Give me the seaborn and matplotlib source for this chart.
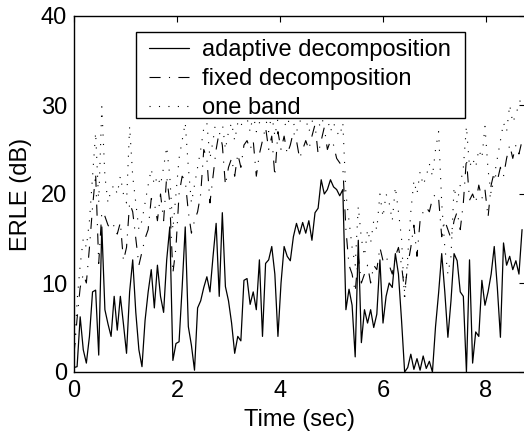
import numpy as np
import pandas as pd
import matplotlib
matplotlib.use("Agg")
import matplotlib.pyplot as plt
from matplotlib.patches import Rectangle
import seaborn as sns

# time axis, one sample every 0.06 s
time_sec = [round(0.06 * k, 2) for k in range(146)]

adaptive = [
    0.5, 0.6, 6.2, 2.5, 1.0, 4.0, 9.0, 9.2, 1.9, 16.3,
    7.0, 5.4, 4.0, 8.5, 4.7, 8.5, 5.4, 2.1, 9.0, 12.6,
    6.7, 2.5, 0.6, 5.8, 9.0, 11.5, 7.2, 12.0, 8.5, 6.7,
    12.6, 16.3, 1.3, 3.2, 3.4, 9.5, 16.3, 5.1, 3.0, 0.2,
    7.2, 8.0, 9.5, 10.7, 9.0, 13.0, 16.7, 8.5, 17.9, 9.6,
    8.0, 5.5, 2.1, 4.0, 3.5, 10.3, 10.5, 7.6, 9.0, 7.0,
    12.6, 4.0, 12.2, 12.6, 14.1, 11.0, 4.0, 10.0, 14.1, 13.0,
    12.5, 15.2, 16.7, 15.5, 16.8, 15.6, 17.0, 14.8, 17.9, 18.4,
    21.6, 20.0, 20.5, 21.6, 20.8, 20.5, 19.8, 20.5, 7.0, 9.3,
    7.5, 1.7, 14.8, 3.3, 7.0, 5.5, 7.0, 5.0, 6.5, 12.6,
    5.5, 8.5, 10.0, 9.5, 13.3, 11.0, 5.8, 0.0, 0.5, 2.0,
    0.3, 1.5, 0.2, 1.8, 0.4, 1.2, 0.0, 5.1, 8.9, 13.3,
    9.0, 3.9, 8.0, 13.3, 12.5, 9.0, 8.5, 0.0, 12.6, 1.0,
    4.5, 4.0, 10.3, 7.5, 9.0, 11.0, 14.1, 9.5, 3.9, 14.5,
    12.0, 13.0, 11.5, 12.5, 11.0, 16.0,
]

fixed = [
    2.0, 6.0, 9.5, 11.0, 10.0, 14.0, 18.5, 22.3, 12.2, 18.0,
    17.5, 16.5, 16.0, 16.5, 15.5, 16.8, 12.5, 14.0, 19.0, 18.0,
    15.0, 12.0, 13.5, 15.0, 16.0, 19.5, 19.0, 17.0, 20.0, 17.0,
    22.0, 19.0, 11.1, 14.0, 20.0, 22.0, 21.5, 18.0, 15.6, 17.0,
    18.0, 20.0, 25.0, 24.0, 19.0, 22.0, 25.0, 27.0, 25.5, 21.0,
    23.0, 24.0, 22.0, 24.5, 23.0, 25.5, 26.0, 25.0, 26.0, 22.0,
    24.5, 26.0, 27.5, 25.0, 26.5, 22.0, 27.0, 25.0, 26.5, 24.5,
    25.5, 27.0, 26.0, 24.0, 25.0, 26.0, 25.0, 26.5, 27.8, 24.5,
    26.0, 27.5, 25.0, 26.0, 25.5, 24.0, 23.5, 23.0, 16.0, 12.0,
    11.0, 9.0, 13.0, 10.0, 11.0, 12.0, 10.0, 12.0, 11.5, 14.0,
    12.5, 13.0, 12.0, 11.0, 13.0, 14.0, 12.0, 9.0, 12.0, 14.0,
    16.5, 13.0, 17.0, 18.0, 18.5, 18.0, 19.5, 20.0, 19.5, 15.2,
    17.0, 16.0, 15.0, 17.0, 18.0, 16.0, 19.0, 24.0, 19.3, 20.0,
    19.0, 21.0, 19.5, 20.5, 17.4, 21.0, 22.5, 21.5, 23.0, 22.0,
    24.0, 25.5, 24.0, 25.5, 24.5, 26.0,
]

one_band = [
    1.0, 8.0, 12.0, 15.0, 14.0, 17.0, 22.0, 26.9, 19.0, 29.8,
    22.0, 19.0, 20.5, 21.0, 20.0, 22.0, 20.0, 19.0, 27.6, 22.0,
    19.0, 16.0, 17.0, 19.0, 21.0, 22.8, 21.0, 22.0, 21.0, 23.0,
    25.3, 22.0, 16.0, 20.0, 24.0, 26.0, 28.0, 23.0, 19.0, 21.0,
    23.0, 25.0, 27.4, 28.0, 24.0, 26.0, 28.5, 29.0, 28.0, 25.0,
    27.0, 28.0, 26.0, 28.0, 27.5, 29.0, 28.5, 27.0, 29.0, 27.0,
    28.0, 29.0, 28.5, 27.0, 29.0, 26.5, 28.5, 29.0, 28.0, 27.5,
    29.0, 28.0, 27.0, 28.0, 29.0, 28.5, 27.0, 28.0, 29.5, 28.0,
    27.5, 29.0, 28.5, 27.0, 28.0, 27.0, 26.5, 28.0, 20.0, 17.0,
    14.0, 12.0, 18.6, 15.0, 13.0, 16.0, 14.5, 17.0, 16.0, 20.0,
    17.4, 20.0, 19.0, 17.0, 20.8, 18.0, 15.0, 8.0, 13.0, 18.0,
    21.5, 20.0, 22.5, 21.0, 22.0, 23.4, 22.0, 25.0, 27.0, 19.0,
    14.0, 11.0, 13.0, 20.8, 19.0, 21.0, 23.0, 27.6, 23.0, 24.0,
    23.0, 25.0, 24.0, 27.6, 22.7, 20.0, 22.0, 24.0, 26.0, 28.0,
    27.0, 30.0, 28.0, 29.0, 30.0, 31.3,
]

x_ticks = [0, 2, 4, 6, 8]
y_ticks = [0, 10, 20, 30, 40]

sns.set_theme(style="white")
plt.rcParams["font.family"] = ["Liberation Sans", "DejaVu Sans"]
plt.rcParams["font.size"] = 17
plt.rcParams["text.color"] = "black"
plt.rcParams["axes.labelcolor"] = "black"
plt.rcParams["xtick.color"] = "black"
plt.rcParams["ytick.color"] = "black"

fig = plt.figure(figsize=(5.24, 4.34), dpi=100)
ax = fig.add_axes([74 / 524, 1 - 372 / 434, 451 / 524, 356 / 434])

df = pd.DataFrame({"time": time_sec, "adaptive": adaptive,
                   "fixed": fixed, "one": one_band})

sns.lineplot(data=df, x="time", y="adaptive", ax=ax, color="black",
             linewidth=0.9, label="adaptive decomposition")
sns.lineplot(data=df, x="time", y="fixed", ax=ax, color="black",
             linewidth=0.8, dashes=(10, 7.5, 1, 7.5),
             label="fixed decomposition")
sns.lineplot(data=df, x="time", y="one", ax=ax, color="black",
             linewidth=0.8, dashes=(1, 7.5), label="one band")

ax.set_xlim(0, 451 / 51.5)
ax.set_ylim(0, 40)
ax.set_xticks(x_ticks)
ax.set_yticks(y_ticks)
ax.set_xlabel("Time (sec)", fontsize=17, labelpad=5, color="black")
ax.set_ylabel("ERLE (dB)", fontsize=17, labelpad=6, color="black")
ax.tick_params(direction="in", length=4, width=0.8, labelsize=17,
               top=True, right=True, colors="black", pad=5)
ax.tick_params(axis="x", pad=6)
for s in ax.spines.values():
    s.set_color("black")
    s.set_linewidth(1.0)

# legend box drawn by hand (white, covers the lines like the original)
box = Rectangle((0.137, 0.713), 0.73, 0.243, transform=ax.transAxes,
                facecolor="white", edgecolor="black", linewidth=1.0,
                zorder=4)
ax.add_patch(box)

leg = ax.legend(loc="upper left", bbox_to_anchor=(0.166, 0.936),
                borderaxespad=0, borderpad=0, fontsize=17, frameon=False,
                handlelength=1.7, handletextpad=0.55, labelspacing=0.3)
leg.set_zorder(5)

fig.savefig("out.png", dpi=100)
